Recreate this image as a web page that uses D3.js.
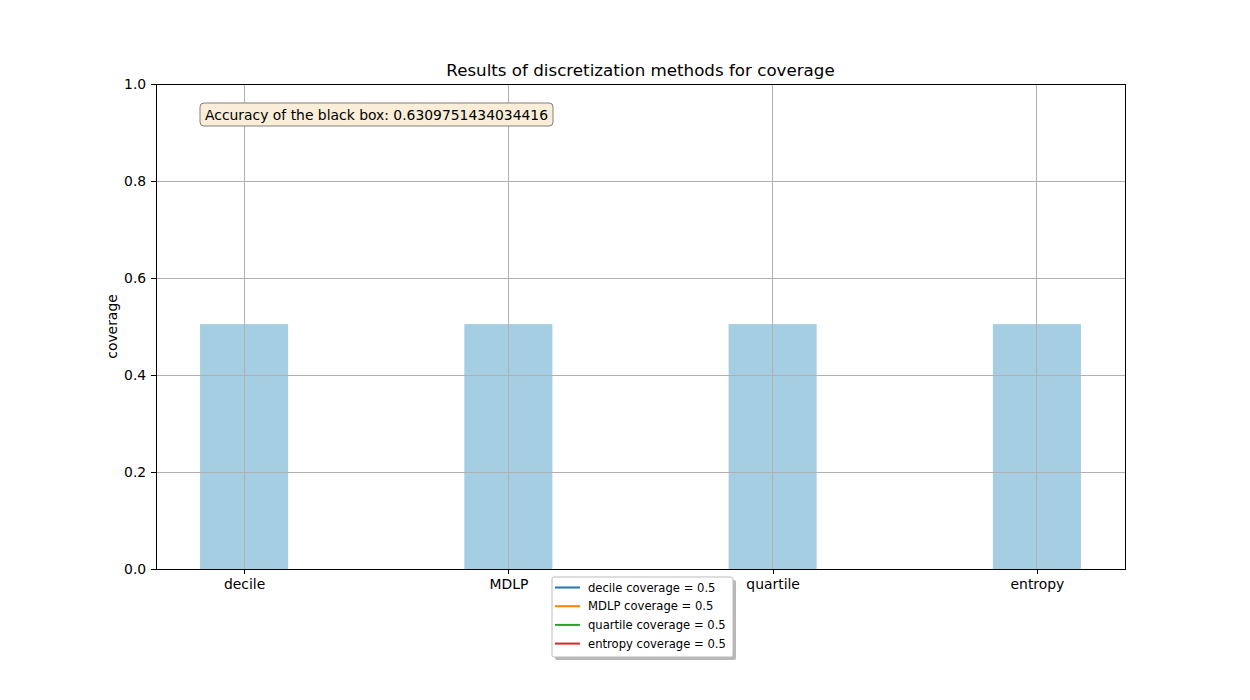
<!DOCTYPE html>
<html>
<head>
  <meta charset="utf-8">
  <title>Results of discretization methods for coverage</title>
  <script src="https://d3js.org/d3.v7.min.js"></script>
  <style>
    body { margin: 0; background: #fff; }
    text { font-family: "DejaVu Sans", sans-serif; }
  </style>
</head>
<body>
<div class="container"></div>
<script>
// data
var methods   = ["decile", "MDLP", "quartile", "entropy"];
var coverage  = [0.505, 0.505, 0.505, 0.505];
var yTicks    = [0.0, 0.2, 0.4, 0.6, 0.8, 1.0];
var lineColors = ["#1f77b4", "#ff7f0e", "#2ca02c", "#d62728"];
var accuracy  = "0.6309751434034416";

var W = 1250, H = 700;
var margin = {top: 84, right: 125, bottom: 131, left: 156},
    width  = W - margin.left - margin.right,
    height = H - margin.top - margin.bottom;

var barW = 1 / 3;   // bar width in data units

var svg = d3.select(".container")
    .append("svg")
    .attr("width", W)
    .attr("height", H);

var g = svg.append("g")
    .attr("transform", "translate(" + margin.left + "," + margin.top + ")");

// x is linear like matplotlib: bars at 0..3, 5% margins
var span = (methods.length - 1) + barW;
var xScale = d3.scaleLinear()
    .domain([-barW / 2 - 0.05 * span, methods.length - 1 + barW / 2 + 0.05 * span])
    .range([0, width]);

var yScale = d3.scaleLinear()
    .domain([0, 1])
    .range([height, 0]);

// bars
g.selectAll(".bar")
    .data(coverage)
    .enter()
    .append("rect")
    .attr("class", "bar")
    .attr("x", function(d, i) { return xScale(i - barW / 2); })
    .attr("y", function(d) { return yScale(d); })
    .attr("width", xScale(barW) - xScale(0))
    .attr("height", function(d) { return height - yScale(d); })
    .attr("fill", "#a6cee3");

// grid drawn over the bars
g.append("g")
    .selectAll("line")
    .data(yTicks)
    .enter()
    .append("line")
    .attr("x1", 0).attr("x2", width)
    .attr("y1", function(d) { return yScale(d); })
    .attr("y2", function(d) { return yScale(d); })
    .attr("stroke", "#b0b0b0").attr("stroke-width", 1)
    .attr("shape-rendering", "crispEdges");

g.append("g")
    .selectAll("line")
    .data(methods)
    .enter()
    .append("line")
    .attr("x1", function(d, i) { return xScale(i); })
    .attr("x2", function(d, i) { return xScale(i); })
    .attr("y1", 0).attr("y2", height)
    .attr("stroke", "#b0b0b0").attr("stroke-width", 1)
    .attr("shape-rendering", "crispEdges");

// axes
var xAxis = d3.axisBottom(xScale)
    .tickValues(d3.range(methods.length))
    .tickFormat(function(d) { return methods[d]; })
    .tickSizeInner(4.9).tickSizeOuter(0).tickPadding(4.9);

var yAxis = d3.axisLeft(yScale)
    .tickValues(yTicks)
    .tickFormat(d3.format(".1f"))
    .tickSizeInner(4.9).tickSizeOuter(0).tickPadding(4.9);

var gx = g.append("g")
    .attr("transform", "translate(0," + height + ")")
    .call(xAxis);
var gy = g.append("g").call(yAxis);

[gx, gy].forEach(function(a) {
  a.select(".domain").remove();
  a.selectAll("text")
    .attr("font-family", "DejaVu Sans, sans-serif")
    .attr("font-size", 13.9)
    .attr("fill", "#000");
  a.selectAll(".tick line").attr("stroke", "#000").attr("stroke-width", 1)
    .attr("shape-rendering", "crispEdges");
});

// frame
g.append("rect")
    .attr("width", width).attr("height", height)
    .attr("fill", "none").attr("stroke", "#000").attr("stroke-width", 1)
    .attr("shape-rendering", "crispEdges");

// title + y label
svg.append("text")
    .attr("x", margin.left + width / 2)
    .attr("y", margin.top - 8)
    .attr("text-anchor", "middle")
    .attr("font-size", 16.7)
    .text("Results of discretization methods for coverage");

svg.append("text")
    .attr("transform", "translate(117," + (margin.top + height / 2) + ") rotate(-90)")
    .attr("text-anchor", "middle")
    .attr("font-size", 13.9)
    .text("coverage");

// accuracy annotation box
var ann = g.append("g").attr("transform", "translate(44,19)");
var annText = ann.append("text")
    .attr("x", 5).attr("y", 16.5)
    .attr("font-size", 13.9)
    .text("Accuracy of the black box: " + accuracy);
var tw = annText.node().getComputedTextLength();
ann.insert("rect", "text")
    .attr("width", tw + 10).attr("height", 23)
    .attr("rx", 4).attr("ry", 4)
    .attr("fill", "#faeed9")
    .attr("stroke", "#808080").attr("stroke-width", 1);

// legend below the axes
var legend = svg.append("g").attr("transform", "translate(552,577)");
var lw = 181, lh = 80;
legend.append("rect")
    .attr("x", 3).attr("y", 3)
    .attr("width", lw).attr("height", lh)
    .attr("rx", 2)
    .attr("fill", "#888").attr("opacity", 0.6);
legend.append("rect")
    .attr("width", lw).attr("height", lh)
    .attr("rx", 2)
    .attr("fill", "#fff")
    .attr("stroke", "#bbb").attr("stroke-width", 1);

var rows = legend.selectAll(".row")
    .data(methods)
    .enter()
    .append("g")
    .attr("transform", function(d, i) { return "translate(0," + (10.5 + i * 18.7) + ")"; });
rows.append("line")
    .attr("x1", 3).attr("x2", 28)
    .attr("stroke", function(d, i) { return lineColors[i]; })
    .attr("stroke-width", 2);
rows.append("text")
    .attr("x", 36).attr("y", 4)
    .attr("font-size", 11.6)
    .text(function(d, i) { return d + " coverage = " + (Math.round(coverage[i] * 10) / 10); });
</script>
</body>
</html>
